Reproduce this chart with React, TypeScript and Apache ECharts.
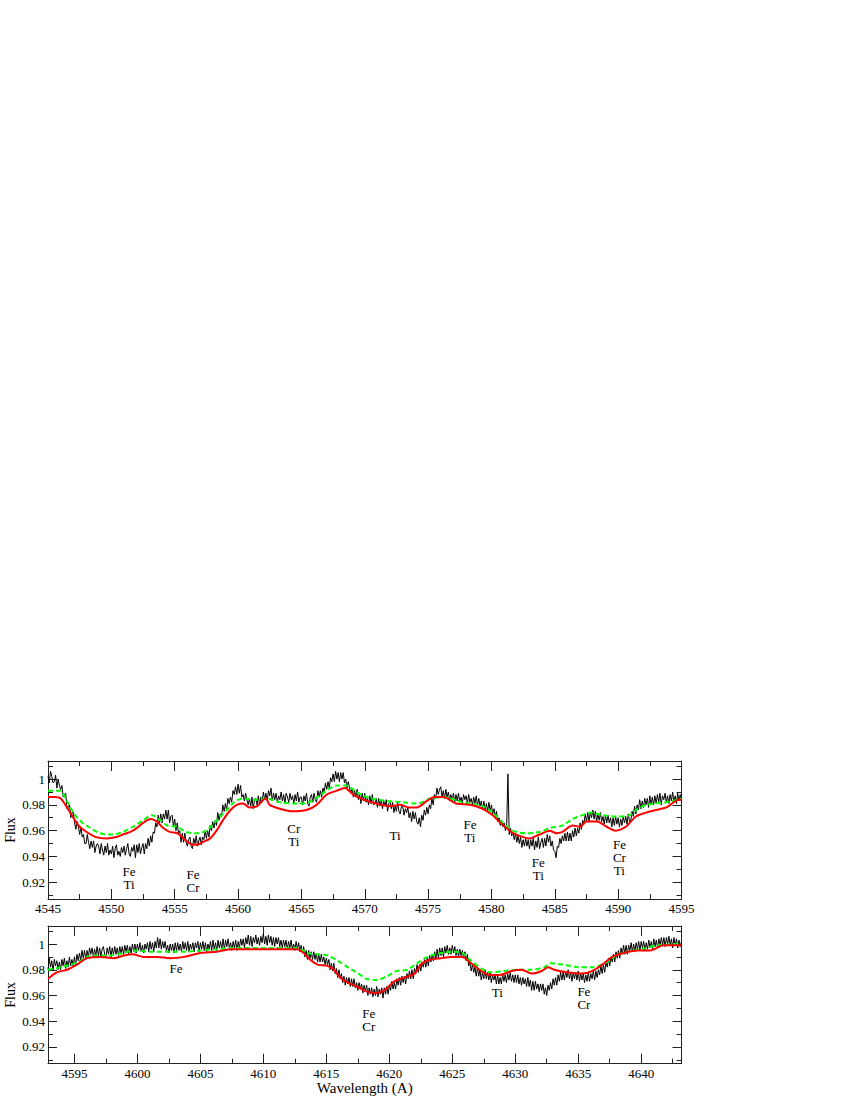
import React, { useEffect, useRef } from "react";
import * as echarts from "echarts";

const FONT = "'Liberation Serif', 'Times New Roman', 'DejaVu Serif', serif";

// ---- axis ranges & ticks ----
const topWaveMin = 4545;
const topWaveMax = 4595;
const botWaveMin = 4592.9;
const botWaveMax = 4643.2;
const fluxMin = 0.907;
const fluxMax = 1.014;

const topWaveTicks = [4545, 4550, 4555, 4560, 4565, 4570, 4575, 4580, 4585, 4590, 4595];
const topWaveMinorTicks = [4547.5, 4552.5, 4557.5, 4562.5, 4567.5, 4572.5, 4577.5, 4582.5, 4587.5, 4592.5];
const botWaveTicks = [4595, 4600, 4605, 4610, 4615, 4620, 4625, 4630, 4635, 4640];
const botWaveMinorTicks = [4597.5, 4602.5, 4607.5, 4612.5, 4617.5, 4622.5, 4627.5, 4632.5, 4637.5, 4642.5];
const fluxTicks = [0.92, 0.94, 0.96, 0.98, 1];
const fluxMinorTicks = [0.91, 0.93, 0.95, 0.97, 0.99, 1.01];

// ---- observed spectrum (black), sampled every 0.1 A ----
const obsStep = 0.1;
const obsTopStart = 4545.0;
const obsTopFlux = [
  1.002, 0.997, 1.006, 1.002, 0.997, 0.998, 1.003, 0.993, 1.000, 0.995,
  0.992, 0.995, 0.986, 0.988, 0.989, 0.977, 0.978, 0.980, 0.970, 0.974,
  0.974, 0.966, 0.961, 0.967, 0.963, 0.957, 0.963, 0.955, 0.957, 0.950,
  0.950, 0.957, 0.951, 0.946, 0.952, 0.947, 0.952, 0.943, 0.948, 0.950,
  0.948, 0.942, 0.950, 0.945, 0.941, 0.948, 0.943, 0.950, 0.941, 0.945,
  0.942, 0.948, 0.939, 0.946, 0.949, 0.941, 0.944, 0.940, 0.947, 0.943,
  0.948, 0.941, 0.946, 0.950, 0.942, 0.940, 0.947, 0.944, 0.949, 0.939,
  0.949, 0.943, 0.950, 0.942, 0.947, 0.950, 0.942, 0.950, 0.946, 0.954,
  0.948, 0.956, 0.951, 0.959, 0.958, 0.966, 0.963, 0.972, 0.966, 0.973,
  0.966, 0.973, 0.969, 0.976, 0.969, 0.976, 0.966, 0.971, 0.972, 0.963,
  0.969, 0.960, 0.966, 0.958, 0.960, 0.951, 0.958, 0.951, 0.958, 0.951,
  0.948, 0.953, 0.955, 0.948, 0.946, 0.954, 0.950, 0.956, 0.948, 0.952,
  0.955, 0.949, 0.955, 0.953, 0.960, 0.954, 0.960, 0.955, 0.964, 0.960,
  0.967, 0.962, 0.968, 0.964, 0.974, 0.968, 0.973, 0.971, 0.980, 0.975,
  0.981, 0.976, 0.985, 0.981, 0.986, 0.982, 0.991, 0.988, 0.994, 0.988,
  0.996, 0.989, 0.995, 0.986, 0.988, 0.983, 0.989, 0.984, 0.980, 0.985,
  0.979, 0.986, 0.977, 0.984, 0.985, 0.980, 0.987, 0.980, 0.986, 0.982,
  0.990, 0.984, 0.989, 0.983, 0.991, 0.987, 0.993, 0.983, 0.989, 0.984,
  0.989, 0.982, 0.987, 0.984, 0.990, 0.983, 0.988, 0.981, 0.989, 0.986,
  0.982, 0.989, 0.984, 0.987, 0.981, 0.988, 0.983, 0.990, 0.982, 0.986,
  0.986, 0.980, 0.987, 0.983, 0.989, 0.981, 0.979, 0.986, 0.988, 0.982,
  0.989, 0.984, 0.982, 0.991, 0.986, 0.991, 0.986, 0.993, 0.990, 0.997,
  0.992, 0.998, 0.993, 1.001, 0.998, 1.004, 0.998, 1.006, 1.000, 1.005,
  0.998, 1.005, 1.000, 1.005, 0.997, 1.000, 0.993, 0.998, 0.993, 0.989,
  0.993, 0.986, 0.991, 0.986, 0.992, 0.984, 0.988, 0.981, 0.989, 0.983,
  0.989, 0.982, 0.985, 0.980, 0.987, 0.981, 0.988, 0.980, 0.981, 0.985,
  0.978, 0.985, 0.979, 0.983, 0.977, 0.983, 0.979, 0.984, 0.975, 0.981,
  0.982, 0.977, 0.982, 0.974, 0.979, 0.975, 0.982, 0.975, 0.973, 0.979,
  0.979, 0.972, 0.977, 0.974, 0.978, 0.970, 0.974, 0.967, 0.975, 0.969,
  0.974, 0.967, 0.965, 0.970, 0.963, 0.972, 0.968, 0.976, 0.972, 0.978,
  0.973, 0.980, 0.977, 0.985, 0.980, 0.988, 0.985, 0.993, 0.988, 0.992,
  0.994, 0.986, 0.991, 0.985, 0.992, 0.986, 0.990, 0.983, 0.988, 0.983,
  0.989, 0.982, 0.988, 0.983, 0.989, 0.982, 0.986, 0.981, 0.988, 0.984,
  0.987, 0.981, 0.988, 0.982, 0.985, 0.980, 0.986, 0.981, 0.987, 0.979,
  0.985, 0.979, 0.983, 0.976, 0.983, 0.976, 0.981, 0.975, 0.982, 0.975,
  0.980, 0.973, 0.977, 0.971, 0.975, 0.967, 0.970, 0.964, 0.968, 0.963,
  0.966, 0.960, 0.963, 1.004, 0.957, 0.962, 0.956, 0.959, 0.953, 0.958,
  0.951, 0.956, 0.950, 0.955, 0.947, 0.953, 0.948, 0.954, 0.948, 0.953,
  0.946, 0.953, 0.948, 0.954, 0.945, 0.952, 0.947, 0.955, 0.946, 0.951,
  0.954, 0.947, 0.954, 0.948, 0.957, 0.951, 0.956, 0.948, 0.952, 0.945,
  0.944, 0.939, 0.948, 0.947, 0.954, 0.950, 0.956, 0.952, 0.958, 0.952,
  0.959, 0.952, 0.958, 0.952, 0.960, 0.955, 0.962, 0.956, 0.962, 0.958,
  0.966, 0.961, 0.968, 0.965, 0.973, 0.967, 0.974, 0.967, 0.974, 0.970,
  0.976, 0.969, 0.975, 0.967, 0.973, 0.968, 0.974, 0.967, 0.971, 0.965,
  0.972, 0.966, 0.972, 0.966, 0.970, 0.963, 0.970, 0.964, 0.971, 0.965,
  0.970, 0.963, 0.969, 0.964, 0.971, 0.966, 0.971, 0.965, 0.973, 0.967,
  0.968, 0.975, 0.971, 0.979, 0.973, 0.980, 0.976, 0.984, 0.977, 0.983,
  0.978, 0.985, 0.980, 0.985, 0.978, 0.987, 0.980, 0.986, 0.980, 0.987,
  0.981, 0.988, 0.982, 0.989, 0.980, 0.987, 0.984, 0.989, 0.982, 0.987,
  0.981, 0.988, 0.983, 0.990, 0.982, 0.987, 0.981, 0.989, 0.983, 0.988,
  0.982,
];

const obsBotStart = 4592.9;
const obsBotFlux = [
  0.980, 0.989, 0.982, 0.987, 0.979, 0.988, 0.983, 0.987, 0.980, 0.986,
  0.980, 0.988, 0.983, 0.989, 0.981, 0.987, 0.982, 0.990, 0.983, 0.988,
  0.983, 0.990, 0.984, 0.992, 0.987, 0.993, 0.987, 0.995, 0.989, 0.995,
  0.988, 0.995, 0.990, 0.997, 0.992, 0.997, 0.990, 0.996, 0.991, 0.998,
  0.991, 0.997, 0.990, 0.996, 0.998, 0.992, 0.990, 0.997, 0.992, 0.998,
  0.990, 0.997, 0.992, 0.998, 0.992, 0.997, 0.991, 0.998, 0.993, 0.998,
  0.992, 0.999, 0.994, 0.999, 0.992, 0.998, 0.993, 1.000, 0.994, 1.000,
  0.993, 1.000, 0.995, 1.001, 0.994, 0.999, 0.993, 1.000, 0.996, 1.001,
  0.994, 1.002, 0.996, 1.001, 0.994, 1.002, 0.997, 1.005, 0.997, 1.004,
  0.996, 1.002, 0.997, 1.002, 0.995, 0.999, 0.993, 1.000, 0.995, 1.000,
  0.993, 1.001, 0.995, 1.001, 0.995, 1.000, 0.994, 1.002, 0.996, 1.001,
  0.995, 1.002, 0.994, 1.000, 0.996, 1.001, 0.994, 1.001, 0.997, 1.002,
  0.994, 1.001, 0.996, 1.002, 0.995, 1.001, 0.994, 1.000, 0.996, 1.002,
  0.995, 1.003, 0.996, 1.001, 0.995, 1.003, 0.997, 1.002, 0.996, 1.004,
  0.996, 1.003, 0.998, 1.004, 0.997, 1.001, 0.995, 1.002, 0.997, 1.003,
  0.995, 1.002, 0.997, 1.004, 0.999, 1.004, 0.997, 1.005, 1.000, 1.007,
  0.999, 1.006, 0.998, 1.005, 1.001, 1.007, 1.000, 1.005, 0.999, 1.006,
  1.001, 1.008, 1.000, 1.006, 0.999, 1.007, 1.001, 1.006, 0.999, 1.005,
  0.998, 1.005, 1.000, 1.005, 0.998, 1.003, 0.997, 1.003, 0.998, 1.003,
  0.996, 1.002, 0.997, 1.003, 0.996, 1.000, 0.995, 1.002, 0.996, 1.001,
  0.994, 0.999, 0.993, 0.998, 0.990, 0.995, 0.988, 0.995, 0.989, 0.994,
  0.988, 0.994, 0.988, 0.993, 0.986, 0.992, 0.986, 0.992, 0.986, 0.990,
  0.984, 0.989, 0.984, 0.988, 0.980, 0.985, 0.979, 0.985, 0.977, 0.981,
  0.974, 0.980, 0.973, 0.977, 0.970, 0.975, 0.968, 0.974, 0.969, 0.974,
  0.967, 0.973, 0.967, 0.973, 0.966, 0.970, 0.964, 0.970, 0.965, 0.969,
  0.962, 0.968, 0.963, 0.968, 0.960, 0.966, 0.961, 0.966, 0.959, 0.965,
  0.960, 0.967, 0.959, 0.965, 0.961, 0.966, 0.958, 0.966, 0.961, 0.967,
  0.961, 0.968, 0.964, 0.971, 0.965, 0.970, 0.965, 0.973, 0.968, 0.974,
  0.968, 0.975, 0.970, 0.975, 0.969, 0.977, 0.973, 0.979, 0.973, 0.980,
  0.973, 0.981, 0.977, 0.984, 0.978, 0.984, 0.979, 0.986, 0.982, 0.988,
  0.982, 0.989, 0.983, 0.991, 0.986, 0.992, 0.987, 0.994, 0.989, 0.996,
  0.989, 0.997, 0.991, 0.997, 0.990, 0.998, 0.993, 0.999, 0.992, 0.997,
  0.992, 0.999, 0.993, 0.998, 0.991, 0.996, 0.990, 0.996, 0.991, 0.995,
  0.989, 0.994, 0.987, 0.992, 0.983, 0.986, 0.979, 0.984, 0.978, 0.982,
  0.975, 0.982, 0.975, 0.980, 0.972, 0.978, 0.973, 0.980, 0.973, 0.978,
  0.972, 0.978, 0.970, 0.976, 0.972, 0.976, 0.969, 0.976, 0.969, 0.974,
  0.969, 0.977, 0.971, 0.976, 0.970, 0.977, 0.972, 0.978, 0.971, 0.976,
  0.970, 0.976, 0.970, 0.976, 0.969, 0.974, 0.968, 0.974, 0.969, 0.973,
  0.967, 0.974, 0.967, 0.972, 0.964, 0.971, 0.964, 0.971, 0.965, 0.969,
  0.963, 0.969, 0.964, 0.969, 0.961, 0.966, 0.960, 0.968, 0.964, 0.970,
  0.965, 0.973, 0.968, 0.974, 0.968, 0.976, 0.971, 0.978, 0.972, 0.978,
  0.972, 0.979, 0.974, 0.980, 0.973, 0.978, 0.971, 0.978, 0.973, 0.978,
  0.972, 0.979, 0.971, 0.977, 0.972, 0.977, 0.970, 0.976, 0.971, 0.978,
  0.971, 0.977, 0.973, 0.979, 0.972, 0.979, 0.974, 0.980, 0.976, 0.983,
  0.977, 0.984, 0.978, 0.986, 0.982, 0.989, 0.983, 0.990, 0.986, 0.992,
  0.986, 0.994, 0.989, 0.995, 0.989, 0.997, 0.992, 0.999, 0.992, 0.999,
  0.992, 0.999, 0.995, 1.001, 0.994, 1.000, 0.994, 1.001, 0.996, 1.002,
  0.995, 1.002, 0.997, 1.002, 0.995, 1.001, 0.996, 1.003, 0.997, 1.002,
  0.996, 1.004, 0.998, 1.003, 0.997, 1.004, 0.999, 1.005, 0.999, 1.005,
  0.998, 1.005, 1.000, 1.006, 0.999, 1.004, 0.997, 1.005, 0.999, 1.004,
  0.997, 1.003, 0.998, 1.002,
];

// ---- model 1 (red, solid) ----
const redTopWave = [
  4545.0, 4545.5, 4546.0, 4546.5, 4547.0, 4547.5, 4548.2, 4548.8, 4549.6, 4550.4,
  4550.9, 4551.5, 4552.0, 4552.5, 4553.1, 4553.6, 4554.1, 4554.6, 4555.2, 4555.7,
  4556.2, 4556.7, 4557.2, 4557.8, 4558.3, 4558.8, 4559.4, 4559.9, 4560.4, 4560.9,
  4561.5, 4562.0, 4562.2, 4562.5, 4563.3, 4564.3, 4565.4, 4566.2, 4567.0, 4567.8,
  4568.4, 4569.1, 4569.9, 4570.9, 4572.0, 4572.8, 4573.5, 4574.1, 4574.9, 4575.5,
  4576.2, 4577.2, 4578.3, 4579.3, 4580.1, 4580.6, 4581.2, 4581.7, 4582.5, 4583.0,
  4583.8, 4584.6, 4585.1, 4585.6, 4586.4, 4587.0, 4587.5, 4588.3, 4589.1, 4589.8,
  4590.6, 4591.4, 4592.2, 4593.0, 4593.8, 4594.8, 4595.0,
];
const redTopFlux = [
  0.986, 0.986, 0.985, 0.978, 0.970, 0.963, 0.958, 0.955, 0.954, 0.955,
  0.957, 0.959, 0.962, 0.966, 0.969, 0.967, 0.962, 0.959, 0.958, 0.954,
  0.950, 0.949, 0.951, 0.954, 0.960, 0.968, 0.976, 0.980, 0.981, 0.978,
  0.979, 0.984, 0.985, 0.980, 0.977, 0.975, 0.976, 0.980, 0.988, 0.991,
  0.993, 0.988, 0.984, 0.981, 0.979, 0.980, 0.978, 0.978, 0.983, 0.986,
  0.986, 0.981, 0.980, 0.977, 0.972, 0.967, 0.962, 0.958, 0.955, 0.954,
  0.957, 0.960, 0.958, 0.959, 0.964, 0.963, 0.967, 0.967, 0.963, 0.960,
  0.963, 0.971, 0.974, 0.976, 0.978, 0.984, 0.984,
];
const redBotWave = [
  4592.9, 4593.6, 4594.4, 4595.2, 4596.0, 4597.1, 4598.1, 4598.9, 4599.6, 4600.5,
  4601.6, 4602.6, 4603.7, 4605.0, 4606.3, 4607.5, 4608.7, 4610.0, 4611.4, 4612.7,
  4613.2, 4613.7, 4614.3, 4615.1, 4615.6, 4616.1, 4616.7, 4617.4, 4618.2, 4619.0,
  4619.6, 4620.4, 4621.2, 4622.0, 4622.6, 4623.3, 4624.1, 4624.9, 4625.8, 4626.5,
  4627.3, 4628.0, 4628.8, 4629.7, 4630.5, 4631.3, 4632.1, 4632.6, 4633.1, 4634.1,
  4635.3, 4636.1, 4636.9, 4637.7, 4638.6, 4639.7, 4640.7, 4641.8, 4643.2,
];
const redBotFlux = [
  0.973, 0.978, 0.980, 0.984, 0.989, 0.990, 0.989, 0.991, 0.992, 0.990,
  0.990, 0.989, 0.990, 0.993, 0.994, 0.996, 0.996, 0.996, 0.996, 0.996,
  0.993, 0.988, 0.984, 0.983, 0.980, 0.974, 0.970, 0.967, 0.963, 0.962,
  0.964, 0.971, 0.974, 0.977, 0.985, 0.988, 0.989, 0.990, 0.990, 0.985,
  0.979, 0.976, 0.976, 0.979, 0.980, 0.977, 0.979, 0.982, 0.980, 0.978,
  0.977, 0.979, 0.984, 0.990, 0.993, 0.995, 0.995, 0.999, 0.999,
];

// ---- model 2 (green, dashed) ----
const greenTopWave = [
  4545.0, 4545.9, 4546.5, 4547.0, 4547.5, 4548.2, 4549.1, 4550.1, 4550.9, 4551.7,
  4552.5, 4553.2, 4553.9, 4554.4, 4555.2, 4555.9, 4556.7, 4557.5, 4558.3, 4559.1,
  4559.7, 4560.4, 4561.5, 4562.2, 4563.3, 4564.6, 4565.6, 4566.7, 4567.8, 4568.6,
  4569.3, 4570.5, 4571.8, 4573.0, 4574.1, 4575.2, 4576.2, 4577.7, 4578.3, 4579.3,
  4580.1, 4580.9, 4581.7, 4582.7, 4583.8, 4584.6, 4585.6, 4586.4, 4587.2, 4587.8,
  4588.8, 4589.9, 4590.9, 4591.7, 4592.8, 4593.8, 4595.0,
];
const greenTopFlux = [
  0.991, 0.991, 0.983, 0.974, 0.968, 0.963, 0.958, 0.957, 0.959, 0.963,
  0.968, 0.972, 0.968, 0.964, 0.963, 0.959, 0.958, 0.960, 0.968, 0.976,
  0.982, 0.985, 0.984, 0.985, 0.982, 0.981, 0.982, 0.989, 0.995, 0.995,
  0.990, 0.985, 0.983, 0.982, 0.981, 0.985, 0.986, 0.982, 0.981, 0.979,
  0.974, 0.966, 0.960, 0.958, 0.959, 0.962, 0.964, 0.969, 0.972, 0.974,
  0.972, 0.971, 0.972, 0.978, 0.981, 0.982, 0.985,
];
const greenBotWave = [
  4592.9, 4593.9, 4594.7, 4595.5, 4596.3, 4597.6, 4598.9, 4599.7, 4601.0, 4602.3,
  4603.7, 4605.0, 4606.3, 4607.5, 4610.0, 4612.7, 4613.5, 4614.3, 4615.1, 4615.9,
  4616.7, 4617.4, 4618.2, 4619.0, 4619.8, 4620.6, 4621.4, 4622.2, 4623.0, 4624.1,
  4625.2, 4625.8, 4626.5, 4627.3, 4628.0, 4629.1, 4630.2, 4631.3, 4632.3, 4632.8,
  4633.8, 4635.0, 4636.1, 4637.1, 4638.0, 4638.9, 4640.0, 4641.3, 4643.2,
];
const greenBotFlux = [
  0.980, 0.982, 0.984, 0.987, 0.991, 0.991, 0.993, 0.995, 0.994, 0.994,
  0.994, 0.995, 0.996, 0.997, 0.997, 0.997, 0.993, 0.992, 0.991, 0.987,
  0.982, 0.978, 0.973, 0.972, 0.975, 0.979, 0.980, 0.985, 0.990, 0.993,
  0.994, 0.993, 0.987, 0.981, 0.978, 0.979, 0.980, 0.980, 0.982, 0.985,
  0.984, 0.982, 0.982, 0.985, 0.991, 0.994, 0.996, 0.999, 1.000,
];

// ---- line identifications ----
const annTopWave = [4551.4, 4556.45, 4564.4, 4572.4, 4578.3, 4583.7, 4590.1];
const annTopFlux = [0.9233, 0.9207, 0.9566, 0.9566, 0.9596, 0.9304, 0.9392];
const annTopText = ["Fe\nTi", "Fe\nCr", "Cr\nTi", "Ti", "Fe\nTi", "Fe\nTi", "Fe\nCr\nTi"];
const annBotWave = [4603.07, 4618.37, 4628.57, 4635.45];
const annBotFlux = [0.9806, 0.9407, 0.9622, 0.9578];
const annBotText = ["Fe", "Fe\nCr", "Ti", "Fe\nCr"];

const yLabel = "Flux";
const xLabel = "Wavelength (A)";

// ---- layout ----
const GRID_LEFT = 48;
const GRID_WIDTH = 633.5;
const TOP_GRID_TOP = 761;
const TOP_GRID_H = 138;
const BOT_GRID_TOP = 926;
const BOT_GRID_H = 137.7;

const FRAME = "#222";

function toPairs(start: number, step: number, flux: number[]) {
  return flux.map((f, i) => [Number((start + i * step).toFixed(2)), f]);
}
function zip(w: number[], f: number[]) {
  return w.map((x, i) => [x, f[i]]);
}
function zipAnn(w: number[], f: number[], t: string[]) {
  return w.map((x, i) => [x, f[i], t[i]]);
}

function mkAxis(
  gridIndex: number,
  min: number,
  max: number,
  position: string,
  values: number[],
  len: number,
  showLine: boolean,
  showLabels: boolean
) {
  return {
    type: "value",
    gridIndex,
    min,
    max,
    position,
    scale: true,
    axisLine: { show: showLine, onZero: false, lineStyle: { color: FRAME, width: 1 } },
    axisTick: {
      show: true,
      inside: true,
      length: len,
      customValues: values,
      lineStyle: { color: FRAME, width: 1 },
    },
    axisLabel: showLabels
      ? {
          show: true,
          customValues: values,
          margin: 3,
          fontSize: 13,
          fontFamily: FONT,
          color: "#000",
          formatter: (v: number) => String(v),
        }
      : { show: false },
    splitLine: { show: false },
    minorTick: { show: false },
  };
}

function xAxesFor(g: number, min: number, max: number, majors: number[], minors: number[]) {
  return [
    mkAxis(g, min, max, "bottom", majors, 10, true, true),
    mkAxis(g, min, max, "bottom", minors, 5, false, false),
    mkAxis(g, min, max, "top", majors, 10, true, false),
    mkAxis(g, min, max, "top", minors, 5, false, false),
  ];
}
function yAxesFor(g: number) {
  return [
    mkAxis(g, fluxMin, fluxMax, "left", fluxTicks, 9, true, true),
    mkAxis(g, fluxMin, fluxMax, "left", fluxMinorTicks, 5, false, false),
    mkAxis(g, fluxMin, fluxMax, "right", fluxTicks, 9, true, false),
    mkAxis(g, fluxMin, fluxMax, "right", fluxMinorTicks, 5, false, false),
  ];
}

function panelSeries(axisIdx: number, obs: number[][], green: number[][], red: number[][], ann: any[]) {
  return [
    {
      type: "line",
      xAxisIndex: axisIdx,
      yAxisIndex: axisIdx,
      data: obs,
      showSymbol: false,
      symbol: "none",
      lineStyle: { color: "#000", width: 1 },
      z: 2,
    },
    {
      type: "line",
      xAxisIndex: axisIdx,
      yAxisIndex: axisIdx,
      data: green,
      showSymbol: false,
      symbol: "none",
      smooth: 0.3,
      lineStyle: { color: "#00ff00", width: 2, type: [5, 3] },
      z: 3,
    },
    {
      type: "line",
      xAxisIndex: axisIdx,
      yAxisIndex: axisIdx,
      data: red,
      showSymbol: false,
      symbol: "none",
      smooth: 0.3,
      lineStyle: { color: "#ff0000", width: 2 },
      z: 4,
    },
    {
      type: "scatter",
      xAxisIndex: axisIdx,
      yAxisIndex: axisIdx,
      data: ann,
      symbolSize: 0,
      silent: true,
      itemStyle: { color: "#000", opacity: 0 },
      label: {
        show: true,
        position: [0, 0],
        formatter: (p: any) => p.data[2],
        fontFamily: FONT,
        fontSize: 13,
        lineHeight: 13,
        color: "#000",
        opacity: 1,
        textBorderWidth: 0,
        align: "center",
        verticalAlign: "middle",
      },
      z: 5,
    },
  ];
}

export default function App() {
  const ref = useRef<HTMLDivElement>(null);
  useEffect(() => {
    if (!ref.current) return;
    const chart = echarts.init(ref.current, null, { renderer: "svg" });
    const textStyle = { fontFamily: FONT, fontSize: 14, fill: "#000", align: "center", verticalAlign: "middle" };
    const option: any = {
      animation: false,
      backgroundColor: "#fff",
      textStyle: { fontFamily: FONT, color: "#000" },
      grid: [
        { left: GRID_LEFT, top: TOP_GRID_TOP, width: GRID_WIDTH, height: TOP_GRID_H },
        { left: GRID_LEFT, top: BOT_GRID_TOP, width: GRID_WIDTH, height: BOT_GRID_H },
      ],
      xAxis: [
        ...xAxesFor(0, topWaveMin, topWaveMax, topWaveTicks, topWaveMinorTicks),
        ...xAxesFor(1, botWaveMin, botWaveMax, botWaveTicks, botWaveMinorTicks),
      ],
      yAxis: [...yAxesFor(0), ...yAxesFor(1)],
      series: [
        ...panelSeries(
          0,
          toPairs(obsTopStart, obsStep, obsTopFlux),
          zip(greenTopWave, greenTopFlux),
          zip(redTopWave, redTopFlux),
          zipAnn(annTopWave, annTopFlux, annTopText)
        ),
        ...panelSeries(
          4,
          toPairs(obsBotStart, obsStep, obsBotFlux),
          zip(greenBotWave, greenBotFlux),
          zip(redBotWave, redBotFlux),
          zipAnn(annBotWave, annBotFlux, annBotText)
        ),
      ],
      graphic: [
        {
          type: "text",
          x: 10,
          y: TOP_GRID_TOP + TOP_GRID_H / 2,
          rotation: Math.PI / 2,
          style: { ...textStyle, text: yLabel },
        },
        {
          type: "text",
          x: 10,
          y: BOT_GRID_TOP + BOT_GRID_H / 2,
          rotation: Math.PI / 2,
          style: { ...textStyle, text: yLabel },
        },
        {
          type: "text",
          x: GRID_LEFT + GRID_WIDTH / 2,
          y: 1088,
          style: { ...textStyle, fontSize: 15, text: xLabel },
        },
      ],
    };
    chart.setOption(option);
    return () => chart.dispose();
  }, []);
  return (
    <div
      ref={ref}
      style={{ position: "absolute", left: 0, top: 0, width: 850, height: 1100, background: "#fff" }}
    />
  );
}
